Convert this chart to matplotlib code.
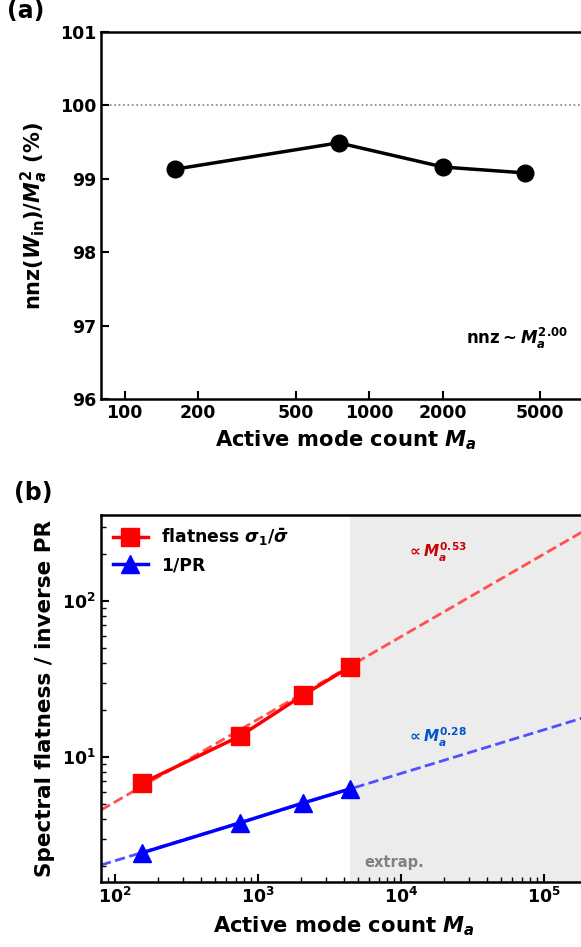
import numpy as np
import matplotlib
matplotlib.use("Agg")
import matplotlib.pyplot as plt
from matplotlib.ticker import FixedLocator, NullLocator, FixedFormatter

plt.rcParams['font.family'] = ['DejaVu Sans']
plt.rcParams['font.weight'] = 'bold'
plt.rcParams['axes.labelweight'] = 'bold'
plt.rcParams['mathtext.fontset'] = 'custom'
plt.rcParams['mathtext.rm'] = 'DejaVu Sans:bold'
plt.rcParams['mathtext.it'] = 'DejaVu Sans:italic:bold'
plt.rcParams['mathtext.bf'] = 'DejaVu Sans:bold'
plt.rcParams['mathtext.sf'] = 'DejaVu Sans:bold'

# ---------------- data ----------------
Ma_a = [160, 750, 2010, 4350]
nnz_pct = [99.13, 99.49, 99.16, 99.08]
xticks_a = [100, 200, 500, 1000, 2000, 5000]
yticks_a = [96, 97, 98, 99, 100, 101]

Ma_b = [155, 748, 2065, 4395]
flatness = [6.8, 13.6, 24.9, 37.8]
inv_pr = [2.43, 3.78, 5.07, 6.24]
flat_exp, flat_amp = 0.53, 0.448
pr_exp, pr_amp = 0.28, 0.595

W, H = 581, 947
fig = plt.figure(figsize=(W / 100, H / 100), dpi=100)

# ---------------- panel (a) ----------------
ax1 = fig.add_axes([101 / W, 1 - 399 / H, (590 - 101) / W, (399 - 32) / H])
ax1.set_xscale('log')
ax1.set_xlim(80, 8000)
ax1.set_ylim(96, 101)
ax1.axhline(100, color='gray', ls=':', lw=1.2, zorder=1)
ax1.plot(Ma_a, nnz_pct, '-o', color='black', lw=2.5, ms=12, zorder=3)
ax1.xaxis.set_major_locator(FixedLocator(xticks_a))
ax1.xaxis.set_major_formatter(FixedFormatter([str(t) for t in xticks_a]))
ax1.xaxis.set_minor_locator(NullLocator())
ax1.set_yticks(yticks_a)
ax1.set_yticklabels([str(t) for t in yticks_a])
ax1.tick_params(direction='in', length=6, width=1.5, labelsize=12.5)
for s in ax1.spines.values():
    s.set_linewidth(1.8)
ax1.set_xlabel(r'Active mode count $M_a$', fontsize=15.2, labelpad=5)
ax1.set_ylabel(r'nnz$(W_{\mathrm{in}})/M_a^2$ (%)', fontsize=15, labelpad=7)
ax1.text(0.955, 0.165, r'$\mathrm{nnz}\sim M_a^{2.00}$', transform=ax1.transAxes,
         ha='right', va='center', fontsize=12)
fig.text(7 / W, 1 - 11 / H, '(a)', fontsize=17, fontweight='bold', va='center', ha='left')

# ---------------- panel (b) ----------------
ax2 = fig.add_axes([101 / W, 1 - 882 / H, (587 - 101) / W, (882 - 515) / H])
ax2.set_xscale('log')
ax2.set_yscale('log')
xlo, xhi = 80, 2e5
ax2.set_xlim(xlo, xhi)
ax2.set_ylim(1.58, 356)
ax2.axvspan(max(Ma_b), xhi, color='#ececec', zorder=0, lw=0)

xf = np.logspace(np.log10(xlo), np.log10(xhi), 200)
ax2.plot(xf, flat_amp * xf ** flat_exp, '--', color='#ff5050', lw=2, zorder=2)
ax2.plot(xf, pr_amp * xf ** pr_exp, '--', color='#5050ff', lw=2, zorder=2)
ax2.plot(Ma_b, flatness, '-s', color='red', lw=2.5, ms=12.5, zorder=3,
         label=r'flatness $\sigma_1/\bar{\sigma}$')
ax2.plot(Ma_b, inv_pr, '-^', color='blue', lw=2.5, ms=13, zorder=3,
         label='1/PR')
ax2.tick_params(which='major', direction='in', length=6, width=1.5, labelsize=12.5)
ax2.tick_params(which='minor', direction='in', length=3.5, width=1.0)
for s in ax2.spines.values():
    s.set_linewidth(1.8)
ax2.set_xlabel(r'Active mode count $M_a$', fontsize=15.2, labelpad=5)
ax2.set_ylabel('Spectral flatness / inverse PR', fontsize=15.5, labelpad=5)
ax2.legend(loc='upper left', frameon=False, fontsize=12.4, handlelength=2.0,
           borderaxespad=0.3, labelspacing=0.45)
ax2.text(406 / W, 1 - 552 / H, r'$\propto M_a^{0.53}$', transform=fig.transFigure,
         color='#cc0000', fontsize=11, ha='left', va='center')
ax2.text(406 / W, 1 - 737 / H, r'$\propto M_a^{0.28}$', transform=fig.transFigure,
         color='#0055cc', fontsize=11, ha='left', va='center')
ax2.text(max(Ma_b) * 1.27, 2.12, 'extrap.', color='gray', fontsize=10.5,
         ha='left', va='center', fontweight='bold')
fig.text(14 / W, 1 - 493 / H, '(b)', fontsize=17, fontweight='bold', va='center', ha='left')

fig.savefig('out.png', dpi=100)
